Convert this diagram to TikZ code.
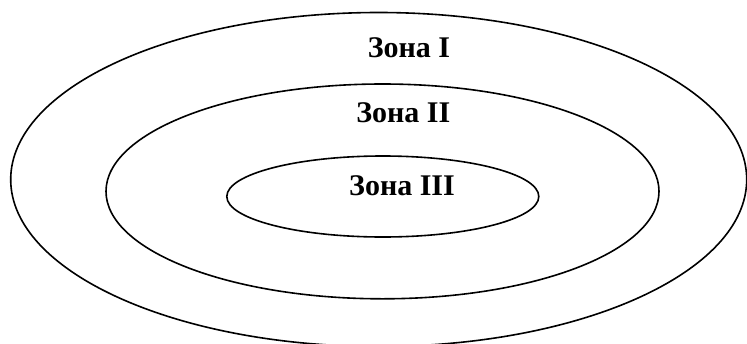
\documentclass[tikz,border=0pt]{standalone}
\usepackage{fontspec}
\setmainfont{Liberation Serif}
\usetikzlibrary{shapes.geometric}
\tikzset{
  zone/.style={ellipse, draw=black, line width=1.6pt, inner sep=0pt, outer sep=0pt},
  zlabel/.style={anchor=base, inner sep=0pt, font=\fontsize{30}{32}\selectfont\bfseries}
}
\begin{document}
\begin{tikzpicture}[x=1pt,y=-1pt]
\clip (0,0) rectangle (747,343);
\fill[white] (0,0) rectangle (747,343);
\node[zone, minimum width=736pt, minimum height=334pt] (outer) at (378.7,179.5) {};
\node[zone, minimum width=553pt, minimum height=214.8pt] (middle) at (382.5,191.4) {};
\node[zone, minimum width=312pt, minimum height=81pt] (inner) at (382.8,196.5) {};
\node[zlabel] (l1) at (409,57.3) {Зона I};
\node[zlabel] (l2) at (403.3,122.3) {Зона II};
\node[zlabel] (l3) at (402,195.7) {Зона III};
\end{tikzpicture}
\end{document}
